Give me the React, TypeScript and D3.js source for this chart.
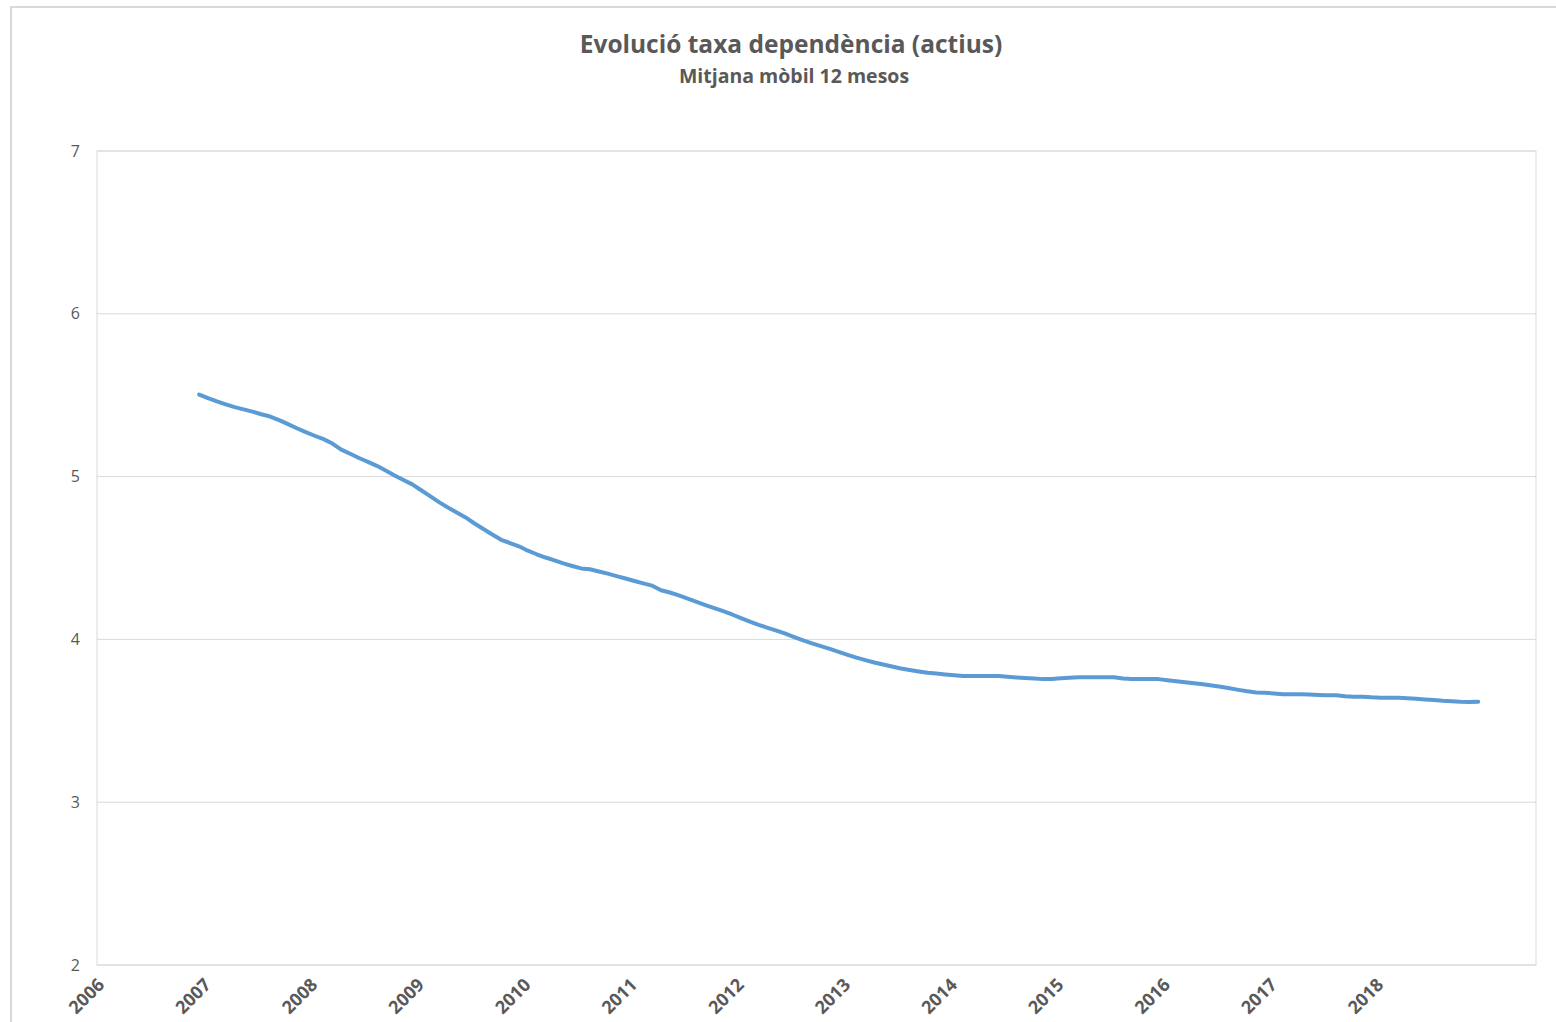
import React from "react";
import * as d3 from "d3";

// Tick labels (one per January) and series values (12-month moving average), Dec 2006 .. Dec 2018
const years = ["2006", "2007", "2008", "2009", "2010", "2011", "2012", "2013", "2014", "2015", "2016", "2017", "2018"];
const firstYear = 2006;
const lastCategory = { year: 2019, month: 6 }; // axis runs Jan 2006 .. Jun 2019
const yTicks = [2, 3, 4, 5, 6, 7];

const v2006 = [5.504]; // December
const v2007 = [5.482, 5.462, 5.444, 5.427, 5.413, 5.399, 5.383, 5.369, 5.347, 5.322, 5.297, 5.273];
const v2008 = [5.251, 5.23, 5.203, 5.166, 5.14, 5.114, 5.09, 5.066, 5.037, 5.007, 4.979, 4.952];
const v2009 = [4.916, 4.88, 4.843, 4.81, 4.78, 4.749, 4.712, 4.678, 4.644, 4.612, 4.592, 4.572];
const v2010 = [4.545, 4.523, 4.503, 4.485, 4.467, 4.451, 4.436, 4.431, 4.417, 4.404, 4.389, 4.374];
const v2011 = [4.359, 4.344, 4.33, 4.302, 4.288, 4.27, 4.25, 4.23, 4.211, 4.192, 4.173, 4.153];
const v2012 = [4.131, 4.109, 4.089, 4.071, 4.054, 4.035, 4.014, 3.994, 3.976, 3.959, 3.942, 3.923];
const v2013 = [3.905, 3.888, 3.873, 3.858, 3.846, 3.834, 3.821, 3.812, 3.803, 3.795, 3.79, 3.785];
const v2014 = [3.78, 3.775, 3.775, 3.775, 3.775, 3.775, 3.77, 3.766, 3.763, 3.76, 3.756, 3.757];
const v2015 = [3.762, 3.765, 3.767, 3.767, 3.767, 3.767, 3.767, 3.76, 3.757, 3.757, 3.757, 3.756];
const v2016 = [3.749, 3.743, 3.737, 3.731, 3.724, 3.717, 3.709, 3.7, 3.69, 3.681, 3.674, 3.672];
const v2017 = [3.668, 3.663, 3.663, 3.663, 3.662, 3.659, 3.657, 3.657, 3.651, 3.648, 3.648, 3.644];
const v2018 = [3.642, 3.642, 3.642, 3.638, 3.635, 3.631, 3.628, 3.623, 3.62, 3.617, 3.616, 3.617];

const W = 1556;
const H = 1022;
const plot = { left: 97, top: 151, right: 1536, bottom: 965 };

export default function App() {
  // monthly categories
  const categories: string[] = [];
  for (let y = firstYear; y <= lastCategory.year; y++) {
    for (let m = 1; m <= 12; m++) {
      if (y === lastCategory.year && m > lastCategory.month) break;
      categories.push(`${y}-${String(m).padStart(2, "0")}`);
    }
  }
  const series: { cat: string; v: number }[] = [];
  series.push({ cat: "2006-12", v: v2006[0] });
  const yearly = [v2007, v2008, v2009, v2010, v2011, v2012, v2013, v2014, v2015, v2016, v2017, v2018];
  yearly.forEach((arr, yi) => {
    arr.forEach((v, mi) => {
      series.push({ cat: `${2007 + yi}-${String(mi + 1).padStart(2, "0")}`, v });
    });
  });

  const x = d3.scaleBand<string>().domain(categories).range([plot.left, plot.right]).paddingInner(0).paddingOuter(0);
  const xc = (c: string) => (x(c) as number) + x.bandwidth() / 2;
  const y = d3.scaleLinear().domain([2, 7]).range([plot.bottom, plot.top]);

  const line = d3
    .line<{ cat: string; v: number }>()
    .x((d) => xc(d.cat))
    .y((d) => y(d.v))
    .curve(d3.curveLinear);

  const textColor = "#595959";
  const gridColor = "#d9d9d9";
  const font = "'Open Sans', 'Noto Sans', sans-serif";

  return (
    <svg
      width={W}
      height={H}
      style={{ position: "absolute", left: 0, top: 0, background: "#fff" }}
      fontFamily={font}
    >
      <rect x={0} y={0} width={W} height={H} fill="#fff" />
      {/* chart area border */}
      <rect x={11} y={7} width={W + 20} height={H + 20} fill="none" stroke={gridColor} strokeWidth={2} />

      {/* title */}
      <text x={791} y={53} textAnchor="middle" fontSize={24.5} fontWeight={700} fill={textColor}>
        Evolució taxa dependència (actius)
      </text>
      <text x={794} y={83} textAnchor="middle" fontSize={19.5} fontWeight={700} fill={textColor}>
        Mitjana mòbil 12 mesos
      </text>

      {/* gridlines */}
      {yTicks.map((t) => (
        <line key={t} x1={plot.left} x2={plot.right} y1={y(t)} y2={y(t)} stroke={gridColor} strokeWidth={1} />
      ))}
      <rect
        x={plot.left}
        y={plot.top}
        width={plot.right - plot.left}
        height={plot.bottom - plot.top}
        fill="none"
        stroke={gridColor}
        strokeWidth={1}
      />

      {/* y labels */}
      {yTicks.map((t) => (
        <text key={t} x={80} y={y(t)} dy="0.35em" textAnchor="end" fontSize={16} fill={textColor}>
          {t}
        </text>
      ))}

      {/* x labels */}
      {years.map((yr) => {
        const cx = xc(`${yr}-01`);
        const ax = cx + 4;
        const ay = 986;
        return (
          <text
            key={yr}
            x={ax}
            y={ay}
            textAnchor="end"
            fontSize={18}
            fontWeight={700}
            fill={textColor}
            transform={`rotate(-45 ${ax} ${ay})`}
          >
            {yr}
          </text>
        );
      })}

      {/* series */}
      <path d={line(series) || ""} fill="none" stroke="#5b9bd5" strokeWidth={4} strokeLinejoin="round" strokeLinecap="round" />
    </svg>
  );
}
